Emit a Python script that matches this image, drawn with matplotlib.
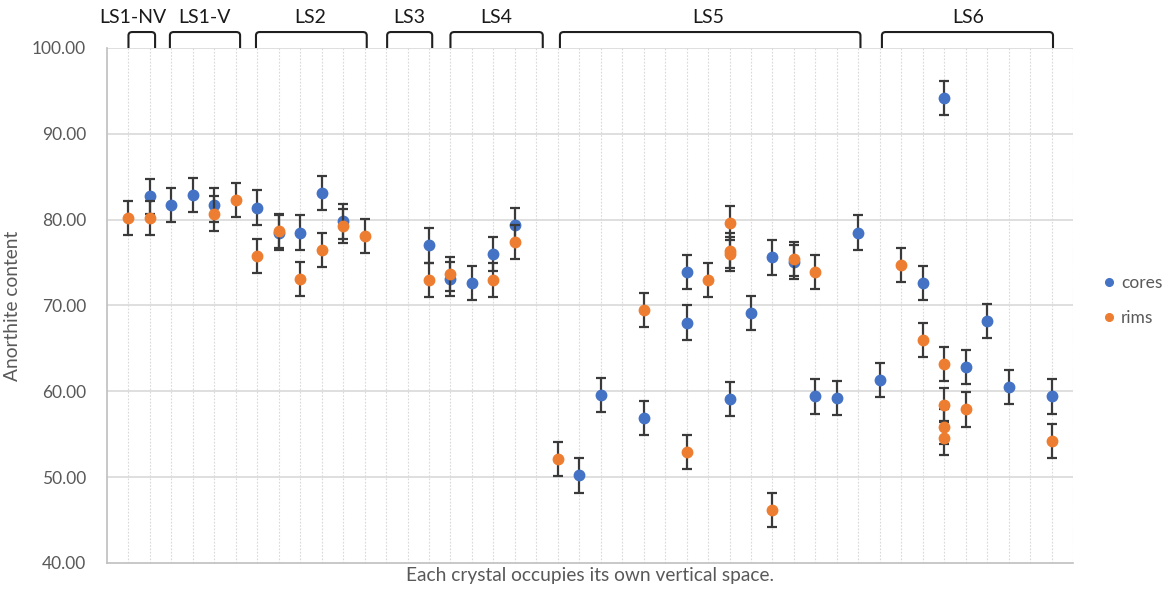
import matplotlib
matplotlib.use("Agg")
import matplotlib.pyplot as plt
from matplotlib.path import Path
from matplotlib.patches import PathPatch
from matplotlib.lines import Line2D

# Crystal positions (one vertical slot per crystal) and anorthite content
cores_x = [2, 3, 4, 5, 7, 8, 9, 10, 11, 15, 16, 17, 18, 19, 22, 23, 25, 27, 27,
           29, 30, 31, 32, 33, 34, 35, 36, 38, 39, 40, 41, 42, 44]
cores_y = [82.7, 81.7, 82.9, 81.7, 81.4, 78.5, 78.5, 83.1, 79.8, 77.0, 73.1, 72.6,
           76.0, 79.4, 50.2, 59.6, 56.9, 73.9, 68.0, 59.1, 69.1, 75.6, 75.1, 59.4,
           59.2, 78.5, 61.3, 72.6, 94.2, 62.8, 68.2, 60.5, 59.4]

rims_x = [1, 2, 5, 6, 7, 8, 9, 10, 11, 12, 15, 16, 18, 19, 21, 25, 27, 28, 29, 29,
          29, 31, 32, 33, 37, 38, 39, 39, 39, 39, 40, 44]
rims_y = [80.2, 80.2, 80.7, 82.3, 75.8, 78.7, 73.1, 76.5, 79.3, 78.1, 73.0, 73.7,
          73.0, 77.4, 52.1, 69.5, 52.9, 73.0, 79.6, 76.4, 76.0, 46.2, 75.4, 73.9,
          74.7, 66.0, 63.2, 58.4, 55.9, 54.6, 57.9, 54.2]

error = 2.0

# Sample groups: label, first slot, last slot
group_labels = ["LS1-NV", "LS1-V", "LS2", "LS3", "LS4", "LS5", "LS6"]
group_start = [1.0, 2.93, 6.94, 13.05, 16.0, 21.1, 36.1]
group_end = [2.24, 6.2, 12.1, 15.15, 20.3, 35.1, 44.07]
group_text_x = [1.19, 4.56, 9.45, 14.1, 18.15, 28.0, 40.1]

plt.rcParams['font.family'] = ['Lato', 'DejaVu Sans']

fig = plt.figure(figsize=(11.72, 5.94), dpi=100)
ax = fig.add_axes([0.0913, 0.0522, 0.9155 - 0.0913, 0.9192 - 0.0522])

ax.set_xlim(0, 45)
ax.set_ylim(40, 100)

grid_c = "#D9D9D9"
for xv in range(1, 46):
    ax.axvline(xv, color=grid_c, lw=0.8, ls=(0, (1.5, 1.5)), zorder=0)
for yv in range(50, 101, 10):
    ax.axhline(yv, color=grid_c, lw=1.2, zorder=0)

blue, orange = '#4472C4', '#ED7D31'
ax.errorbar(cores_x, cores_y, yerr=error, fmt='o', color=blue, ms=7.5,
            ecolor='#3A3A3A', elinewidth=1.6, capsize=3.5, capthick=1.6,
            zorder=3)
ax.errorbar(rims_x, rims_y, yerr=error, fmt='o', color=orange, ms=7.5,
            ecolor='#3A3A3A', elinewidth=1.6, capsize=3.5, capthick=1.6,
            zorder=4)

for side in ['top', 'right']:
    ax.spines[side].set_visible(False)
ax.spines['left'].set_color('#BFBFBF')
ax.spines['bottom'].set_color('#BFBFBF')
ax.spines['left'].set_linewidth(1.2)
ax.spines['bottom'].set_linewidth(1.2)

ax.set_xticks([])
ax.set_yticks(range(40, 101, 10))
ax.set_yticklabels([f"{v:.2f}" for v in range(40, 101, 10)])
ax.tick_params(axis='y', length=0, pad=15, labelsize=12.5, labelcolor='#595959')

ax.set_ylabel("Anorthite content", fontsize=13.8, color='#595959', labelpad=8)
ax.set_xlabel("Each crystal occupies its own vertical space.", fontsize=13.8,
              color='#595959', labelpad=3)

# Group brackets above the plot area
y_base, y_top, r = 100.0, 101.86, 0.18
for lab, x0, x1, xt in zip(group_labels, group_start, group_end, group_text_x):
    verts = [(x0, y_base), (x0, y_top - 0.4), (x0, y_top), (x0 + r, y_top),
             (x1 - r, y_top), (x1, y_top), (x1, y_top - 0.4), (x1, y_base)]
    codes = [Path.MOVETO, Path.LINETO, Path.CURVE3, Path.CURVE3,
             Path.LINETO, Path.CURVE3, Path.CURVE3, Path.LINETO]
    ax.add_patch(PathPatch(Path(verts, codes), fill=False, ec='#1F1F1F', lw=1.5,
                           clip_on=False, zorder=5))
    ax.text(xt, 103.6, lab, ha='center', va='center', fontsize=14,
            color='#1A1A1A', clip_on=False)

handles = [Line2D([], [], ls='none', marker='o', color=blue, ms=5.5),
           Line2D([], [], ls='none', marker='o', color=orange, ms=5.5)]
leg = ax.legend(handles, ['cores', 'rims'], loc='center left',
                bbox_to_anchor=(1.01, 0.51), frameon=False, fontsize=12.5,
                handletextpad=0.1, labelspacing=1.1, handlelength=1.2)
for t in leg.get_texts():
    t.set_color('#595959')

fig.savefig("out.png", dpi=100)
